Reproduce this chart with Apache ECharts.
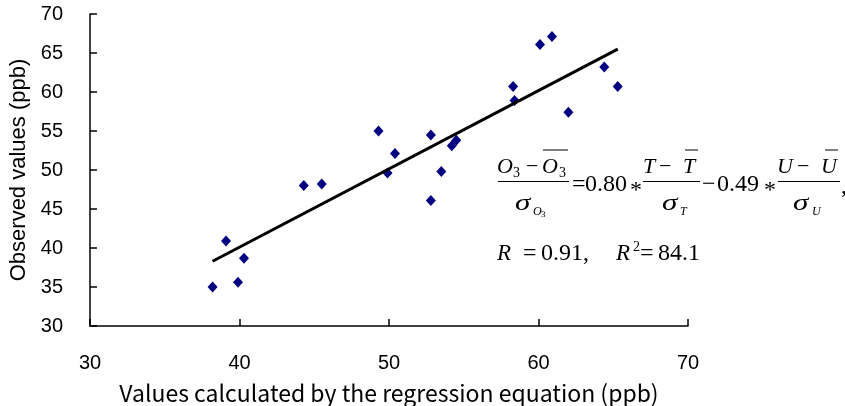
<!DOCTYPE html>
<html>
<head>
<meta charset="utf-8">
<script src="https://cdn.jsdelivr.net/npm/echarts@6.0.0/dist/echarts.min.js"></script>
<style>
  html, body { margin: 0; background: #fff; }
  #chart { width: 845px; height: 406px; }
</style>
</head>
<body>
<div id="chart"></div>
<script>
// values calculated by the regression equation (ppb) / observed values (ppb)
const calcValues = [38.2, 39.1, 39.9, 40.3, 44.3, 45.5, 49.3, 49.9, 50.4, 52.8, 52.8, 53.5, 54.2, 54.5, 58.3, 58.4, 60.1, 60.9, 62.0, 64.4, 65.3]
const obsValues = [35.0, 40.9, 35.6, 38.7, 48.0, 48.2, 55.0, 49.6, 52.1, 54.5, 46.1, 49.8, 53.1, 53.8, 60.7, 58.9, 66.1, 67.1, 57.4, 63.2, 60.7]
// end points of the fitted line
const fitX = [38.2, 65.3]
const fitY = [38.3, 65.5]

const xName = 'Values calculated by the regression equation (ppb)'
const yName = 'Observed values (ppb)'

const serif = 'Liberation Serif'
const sans = 'Liberation Sans, Arial, sans-serif'
const jp = 'Noto Sans CJK JP'

function t (text, x, y, size, italic, sx) {
  return {
    type: 'text',
    x: x,
    y: y,
    scaleX: sx || 1,
    silent: true,
    style: {
      text: text,
      fontFamily: serif,
      fontSize: size,
      fontStyle: italic ? 'italic' : 'normal',
      fill: '#000',
      textAlign: 'left',
      textVerticalAlign: 'middle'
    }
  }
}
function ln (x1, x2, y, w) {
  return { type: 'line', silent: true, shape: { x1: x1, y1: y, x2: x2, y2: y }, style: { stroke: '#000', lineWidth: w || 1 } }
}

// formula annotation
const formula = [
  t('O', 497, 167, 22, true), t('3', 513, 173, 14), t('\u2212', 526, 167, 22), t('O', 542, 167, 22, true), t('3', 559, 173, 14),
  ln(543, 568, 150), ln(498, 569, 181.5),
  t('\u03c3', 515, 204, 23, true, 1.35), t('O', 533, 212, 12, true), t('3', 541, 215, 9),
  t('=', 572, 185, 24), t('0.80', 585, 185, 24), t('*', 630, 191, 24),
  t('T', 643, 167, 22, true), t('\u2212', 659, 167, 22), t('T', 683, 167, 22, true),
  ln(685, 698, 150), ln(643, 700, 181.5),
  t('\u03c3', 662, 204, 23, true, 1.35), t('T', 680, 212, 12, true),
  t('\u2212', 702, 185, 24), t('0.49', 717, 185, 24), t('*', 764, 191, 24),
  t('U', 777, 167, 22, true), t('\u2212', 797, 167, 22), t('U', 821, 167, 22, true),
  ln(825, 838, 150), ln(778, 840, 181.5),
  t('\u03c3', 793, 204, 23, true, 1.35), t('U', 812, 212, 12, true),
  t(',', 841, 187, 24),
  t('R', 497, 254, 23, true), t('=', 523, 254, 24), t('0.91,', 541, 254, 24),
  t('R', 616, 254, 23, true), t('2', 633, 247, 14), t('=', 640, 254, 24), t('84.1', 658, 254, 24)
]

const chart = echarts.init(document.getElementById('chart'))
chart.setOption({
  backgroundColor: '#fff',
  animation: false,
  grid: { left: 90, right: 157, top: 14, bottom: 80, containLabel: false, outerBoundsMode: 'none' },
  xAxis: {
    type: 'value',
    min: 30,
    max: 70,
    interval: 10,
    name: xName,
    nameLocation: 'middle',
    nameGap: 56,
    nameTextStyle: { fontFamily: jp, fontSize: 23, color: '#000' },
    axisLine: { show: true, onZero: false, lineStyle: { color: '#000', width: 1.5 } },
    axisTick: { show: true, inside: true, length: 7, lineStyle: { color: '#000', width: 1.5 } },
    axisLabel: { margin: 27, fontFamily: sans, fontSize: 20, color: '#000' },
    splitLine: { show: false }
  },
  yAxis: {
    type: 'value',
    min: 30,
    max: 70,
    interval: 5,
    name: yName,
    nameLocation: 'middle',
    nameGap: 59,
    nameTextStyle: { fontFamily: sans, fontSize: 22, color: '#000' },
    axisLine: { show: true, onZero: false, lineStyle: { color: '#000', width: 1.5 } },
    axisTick: { show: true, inside: true, length: 7, lineStyle: { color: '#000', width: 1.5 } },
    axisLabel: { margin: 27, fontFamily: sans, fontSize: 20, color: '#000', padding: [3, 0, 0, 0] },
    splitLine: { show: false }
  },
  graphic: formula,
  series: [
    {
      type: 'scatter',
      symbol: 'diamond',
      symbolSize: [10, 11],
      itemStyle: { color: '#000080', opacity: 1 },
      data: calcValues.map((v, i) => [v, obsValues[i]])
    },
    {
      type: 'line',
      symbol: 'none',
      silent: true,
      lineStyle: { color: '#000', width: 3 },
      data: fitX.map((v, i) => [v, fitY[i]])
    }
  ]
})
</script>
</body>
</html>
